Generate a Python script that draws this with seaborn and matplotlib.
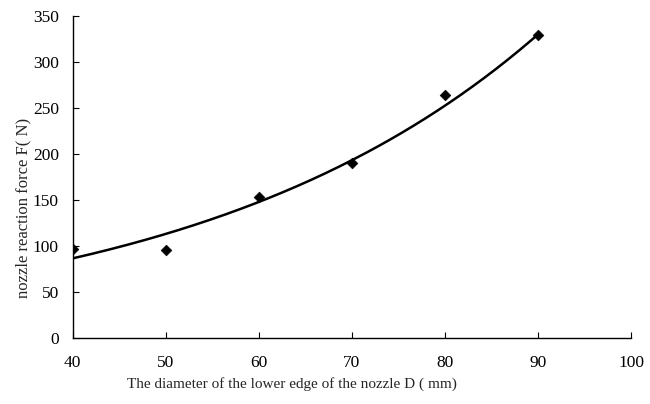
import numpy as np
import pandas as pd
import matplotlib
matplotlib.use("Agg")
import matplotlib.pyplot as plt
import seaborn as sns

diameter = [40, 50, 60, 70, 80, 90]
force = [97, 96, 153, 190, 264, 329]

sns.set_style("ticks")
plt.rcParams['font.family'] = ['Liberation Serif', 'DejaVu Serif']

df = pd.DataFrame({"D": diameter, "F": force})

# exponential trendline fitted to the data
b, a = np.polyfit(df["D"], np.log(df["F"]), 1)
xs = np.linspace(min(diameter), max(diameter), 200)
trend = pd.DataFrame({"D": xs, "F": np.exp(a + b * xs)})

fig = plt.figure(figsize=(6.5, 4.04), dpi=100)
ax = fig.add_axes([0.112, 0.163, 0.859, 0.797])

sns.lineplot(data=trend, x="D", y="F", ax=ax, color="black", linewidth=1.8)
sns.scatterplot(data=df, x="D", y="F", ax=ax, marker="D", color="black", s=30,
                edgecolor="black", zorder=3)

ax.set_xlim(40, 100)
ax.set_ylim(0, 350)
ax.set_xticks(range(40, 101, 10))
ax.set_yticks(range(0, 351, 50))
ax.tick_params(direction="in", length=4, labelsize=12.5, colors="black")
ax.tick_params(axis="x", pad=12)
ax.tick_params(axis="y", pad=10)
for s in ["top", "right"]:
    ax.spines[s].set_visible(False)
for s in ["left", "bottom"]:
    ax.spines[s].set_color("black")
    ax.spines[s].set_linewidth(1.0)
ax.set_xlabel("The diameter of the lower edge of the nozzle D ( mm)", fontsize=11)
ax.set_ylabel("nozzle reaction force F( N)", fontsize=12)
ax.xaxis.set_label_coords(0.392, -0.122)
ax.yaxis.set_label_coords(-0.075, 0.405)

fig.savefig("out.png", dpi=100)
